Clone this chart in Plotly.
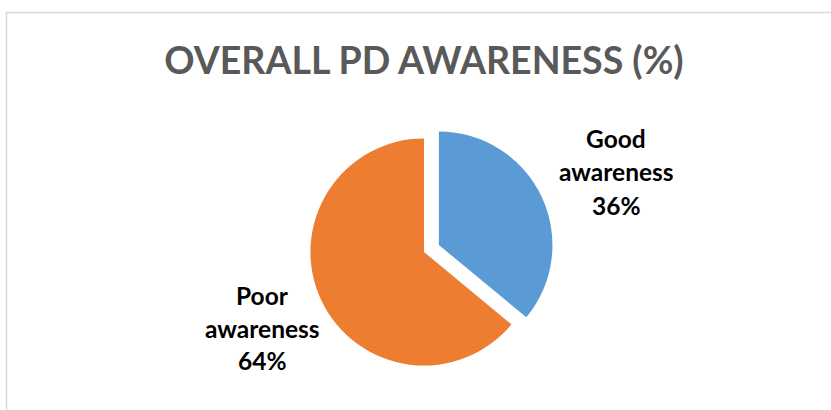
import plotly.graph_objects as go

# Data
labels = ["Good awareness", "Poor awareness"]
values = [36, 64]
colors = ["#5B9BD5", "#ED7D31"]
pulls = [0.145, 0]
title_text = "OVERALL PD AWARENESS (%)"

W, H = 831, 410
L, R, T, B = 100, 83, 121.5, 27.5
PW, PH = W - L - R, H - T - B


def px_x(px):
    return (px - L) / PW


def px_y(py):
    return (H - B - py) / PH


fig = go.Figure(go.Pie(
    labels=labels,
    values=values,
    marker=dict(colors=colors, line=dict(width=0)),
    pull=pulls,
    sort=False,
    direction="clockwise",
    rotation=0,
    textinfo="none",
    hoverinfo="label+percent",
    showlegend=False,
))

# Outside labels as annotations (text from data)
label_pos = {
    "Good awareness": (616, [138, 171, 205]),
    "Poor awareness": (262, [296, 329, 361]),
}
annotations = []
for lab, val in zip(labels, values):
    cx, ys = label_pos[lab]
    parts = lab.split(" ") + [f"{val}%"]
    for part, yy in zip(parts, ys):
        annotations.append(dict(
            text=part, x=px_x(cx), y=px_y(yy), xref="paper", yref="paper",
            xanchor="center", yanchor="middle", showarrow=False,
            font=dict(family="Lato", size=24.5, color="#000000", weight="bold"),
        ))

fig.update_layout(
    width=W, height=H,
    margin=dict(l=L, r=R, t=T, b=B),
    paper_bgcolor="white",
    plot_bgcolor="white",
    title=dict(
        text=f"<b>{title_text}</b>",
        x=424 / W, xanchor="center",
        y=1 - 61 / H, yanchor="middle",
        font=dict(family="Lato", size=37.5, color="#595959"),
    ),
    annotations=annotations,
    shapes=[dict(
        type="rect", xref="paper", yref="paper",
        x0=px_x(6.5), x1=px_x(900), y0=px_y(500), y1=px_y(11.5),
        line=dict(color="#D9D9D9", width=1.5), fillcolor="rgba(0,0,0,0)",
        layer="below",
    )],
)

fig.write_html("out.html")
